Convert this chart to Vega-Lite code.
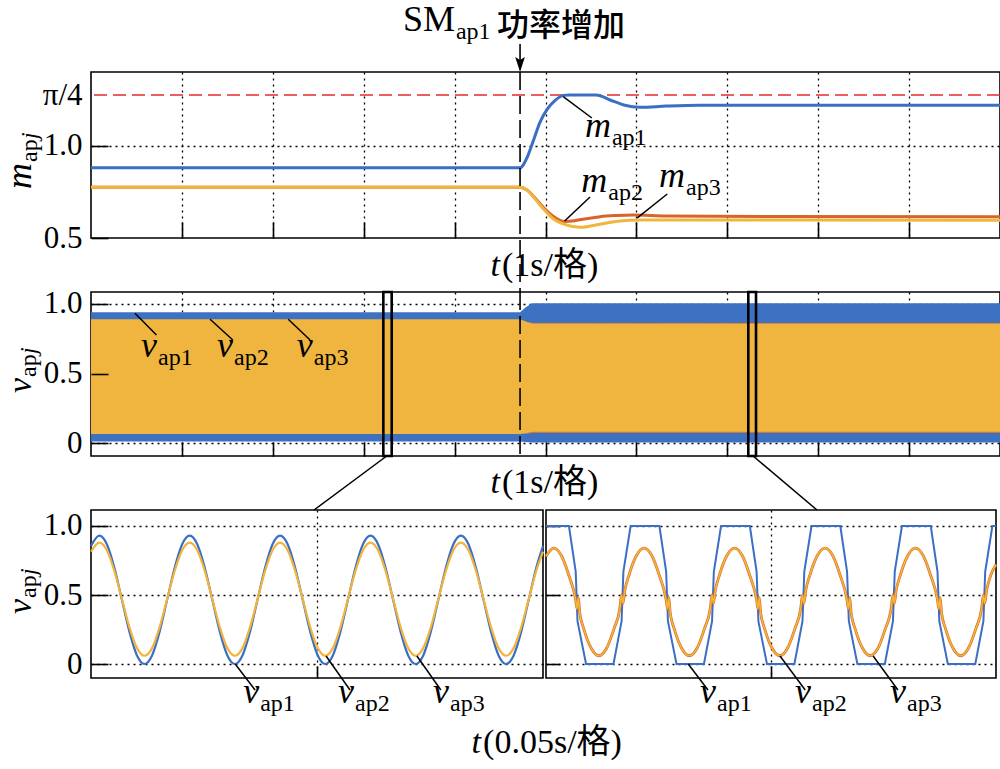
{
  "$schema": "https://vega.github.io/schema/vega-lite/v6.json",
  "autosize": {"type": "none"},
  "padding": {"left": 91, "top": 72, "right": 909, "bottom": 697},
  "background": "white",
  "bounds": "flush",
  "spacing": 54,
  "datasets": {
    "m": [
      {"s": "m_ap1", "t": 0, "v": 0.882}, {"s": "m_ap1", "t": 4.72, "v": 0.882}, {"s": "m_ap1", "t": 4.8, "v": 0.94}, {"s": "m_ap1", "t": 4.86, "v": 1.02}, {"s": "m_ap1", "t": 4.94, "v": 1.13}, {"s": "m_ap1", "t": 5.02, "v": 1.2}, {"s": "m_ap1", "t": 5.1, "v": 1.245}, {"s": "m_ap1", "t": 5.2, "v": 1.275}, {"s": "m_ap1", "t": 5.26, "v": 1.277}, {"s": "m_ap1", "t": 5.56, "v": 1.277}, {"s": "m_ap1", "t": 5.71, "v": 1.25}, {"s": "m_ap1", "t": 5.86, "v": 1.223}, {"s": "m_ap1", "t": 6.04, "v": 1.21}, {"s": "m_ap1", "t": 6.33, "v": 1.217}, {"s": "m_ap1", "t": 6.7, "v": 1.222}, {"s": "m_ap1", "t": 8, "v": 1.222}, {"s": "m_ap1", "t": 10, "v": 1.221},
      {"s": "m_ap2", "t": 0, "v": 0.776}, {"s": "m_ap2", "t": 4.72, "v": 0.776}, {"s": "m_ap2", "t": 4.8, "v": 0.76}, {"s": "m_ap2", "t": 4.88, "v": 0.72}, {"s": "m_ap2", "t": 4.97, "v": 0.67}, {"s": "m_ap2", "t": 5.08, "v": 0.62}, {"s": "m_ap2", "t": 5.21, "v": 0.59}, {"s": "m_ap2", "t": 5.32, "v": 0.594}, {"s": "m_ap2", "t": 5.41, "v": 0.602}, {"s": "m_ap2", "t": 5.6, "v": 0.616}, {"s": "m_ap2", "t": 5.78, "v": 0.622}, {"s": "m_ap2", "t": 5.96, "v": 0.625}, {"s": "m_ap2", "t": 6.33, "v": 0.62}, {"s": "m_ap2", "t": 7.5, "v": 0.617}, {"s": "m_ap2", "t": 10, "v": 0.616},
      {"s": "m_ap3", "t": 0, "v": 0.776}, {"s": "m_ap3", "t": 4.72, "v": 0.776}, {"s": "m_ap3", "t": 4.8, "v": 0.758}, {"s": "m_ap3", "t": 4.88, "v": 0.716}, {"s": "m_ap3", "t": 4.97, "v": 0.662}, {"s": "m_ap3", "t": 5.08, "v": 0.606}, {"s": "m_ap3", "t": 5.21, "v": 0.574}, {"s": "m_ap3", "t": 5.38, "v": 0.558}, {"s": "m_ap3", "t": 5.6, "v": 0.575}, {"s": "m_ap3", "t": 5.82, "v": 0.592}, {"s": "m_ap3", "t": 6.04, "v": 0.598}, {"s": "m_ap3", "t": 7, "v": 0.598}, {"s": "m_ap3", "t": 10, "v": 0.597}
    ],
    "mid": [
      {"s": "blue", "t": 0, "lo": 0.012, "hi": 0.94}, {"s": "blue", "t": 4.72, "lo": 0.012, "hi": 0.94}, {"s": "blue", "t": 4.78, "lo": 0.01, "hi": 0.975}, {"s": "blue", "t": 4.85, "lo": 0.006, "hi": 1.005}, {"s": "blue", "t": 10, "lo": 0.006, "hi": 1.005},
      {"s": "yellow", "t": 0, "lo": 0.067, "hi": 0.89}, {"s": "yellow", "t": 4.72, "lo": 0.067, "hi": 0.89}, {"s": "yellow", "t": 4.8, "lo": 0.072, "hi": 0.87}, {"s": "yellow", "t": 4.86, "lo": 0.078, "hi": 0.862}, {"s": "yellow", "t": 10, "lo": 0.078, "hi": 0.861}
    ],
    "L": [
      {"t": 0, "a": 0.855, "b": 0.814},
      {"t": 1.84, "a": 0.93, "b": 0.88}, {"t": 3.51, "a": 0.868, "b": 0.825}, {"t": 5.17, "a": 0.698, "b": 0.675}, {"t": 6.84, "a": 0.465, "b": 0.47}, {"t": 8.51, "a": 0.233, "b": 0.265}, {"t": 10.17, "a": 0.062, "b": 0.115}, {"t": 11.84, "a": 0, "b": 0.06}, {"t": 13.51, "a": 0.062, "b": 0.115}, {"t": 15.17, "a": 0.233, "b": 0.265}, {"t": 16.84, "a": 0.465, "b": 0.47}, {"t": 18.51, "a": 0.698, "b": 0.675}, {"t": 20.17, "a": 0.868, "b": 0.825},
      {"t": 21.84, "a": 0.93, "b": 0.88}, {"t": 23.51, "a": 0.868, "b": 0.825}, {"t": 25.17, "a": 0.698, "b": 0.675}, {"t": 26.84, "a": 0.465, "b": 0.47}, {"t": 28.51, "a": 0.233, "b": 0.265}, {"t": 30.17, "a": 0.062, "b": 0.115}, {"t": 31.84, "a": 0, "b": 0.06}, {"t": 33.51, "a": 0.062, "b": 0.115}, {"t": 35.17, "a": 0.233, "b": 0.265}, {"t": 36.84, "a": 0.465, "b": 0.47}, {"t": 38.51, "a": 0.698, "b": 0.675}, {"t": 40.17, "a": 0.868, "b": 0.825},
      {"t": 41.84, "a": 0.93, "b": 0.88}, {"t": 43.51, "a": 0.868, "b": 0.825}, {"t": 45.17, "a": 0.698, "b": 0.675}, {"t": 46.84, "a": 0.465, "b": 0.47}, {"t": 48.51, "a": 0.233, "b": 0.265}, {"t": 50.17, "a": 0.062, "b": 0.115}, {"t": 51.84, "a": 0, "b": 0.06}, {"t": 53.51, "a": 0.062, "b": 0.115}, {"t": 55.17, "a": 0.233, "b": 0.265}, {"t": 56.84, "a": 0.465, "b": 0.47}, {"t": 58.51, "a": 0.698, "b": 0.675}, {"t": 60.17, "a": 0.868, "b": 0.825},
      {"t": 61.84, "a": 0.93, "b": 0.88}, {"t": 63.51, "a": 0.868, "b": 0.825}, {"t": 65.17, "a": 0.698, "b": 0.675}, {"t": 66.84, "a": 0.465, "b": 0.47}, {"t": 68.51, "a": 0.233, "b": 0.265}, {"t": 70.17, "a": 0.062, "b": 0.115}, {"t": 71.84, "a": 0, "b": 0.06}, {"t": 73.51, "a": 0.062, "b": 0.115}, {"t": 75.17, "a": 0.233, "b": 0.265}, {"t": 76.84, "a": 0.465, "b": 0.47}, {"t": 78.51, "a": 0.698, "b": 0.675}, {"t": 80.17, "a": 0.868, "b": 0.825},
      {"t": 81.84, "a": 0.93, "b": 0.88}, {"t": 83.51, "a": 0.868, "b": 0.825}, {"t": 85.17, "a": 0.698, "b": 0.675}, {"t": 86.84, "a": 0.465, "b": 0.47}, {"t": 88.51, "a": 0.233, "b": 0.265}, {"t": 90.17, "a": 0.062, "b": 0.115}, {"t": 91.84, "a": 0, "b": 0.06}, {"t": 93.51, "a": 0.062, "b": 0.115}, {"t": 95.17, "a": 0.233, "b": 0.265}, {"t": 96.84, "a": 0.465, "b": 0.47}, {"t": 98.51, "a": 0.698, "b": 0.675},
      {"t": 100, "a": 0.855, "b": 0.814}
    ],
    "Rb": [
      {"t": 0, "v": 1},
      {"t": 5.1, "v": 1}, {"t": 6.6, "v": 0.67}, {"t": 7.0, "v": 0.31}, {"t": 8.9, "v": 0}, {"t": 15.0, "v": 0}, {"t": 16.8, "v": 0.31}, {"t": 17.2, "v": 0.67}, {"t": 18.8, "v": 1},
      {"t": 25.2, "v": 1}, {"t": 26.7, "v": 0.67}, {"t": 27.1, "v": 0.31}, {"t": 29.0, "v": 0}, {"t": 35.1, "v": 0}, {"t": 36.9, "v": 0.31}, {"t": 37.3, "v": 0.67}, {"t": 38.9, "v": 1},
      {"t": 45.3, "v": 1}, {"t": 46.8, "v": 0.67}, {"t": 47.2, "v": 0.31}, {"t": 49.1, "v": 0}, {"t": 55.2, "v": 0}, {"t": 57.0, "v": 0.31}, {"t": 57.4, "v": 0.67}, {"t": 59.0, "v": 1},
      {"t": 65.4, "v": 1}, {"t": 66.9, "v": 0.67}, {"t": 67.3, "v": 0.31}, {"t": 69.2, "v": 0}, {"t": 75.3, "v": 0}, {"t": 77.1, "v": 0.31}, {"t": 77.5, "v": 0.67}, {"t": 79.1, "v": 1},
      {"t": 85.5, "v": 1}, {"t": 87.0, "v": 0.67}, {"t": 87.4, "v": 0.31}, {"t": 89.3, "v": 0}, {"t": 95.4, "v": 0}, {"t": 97.2, "v": 0.31}, {"t": 97.6, "v": 0.67}, {"t": 99.2, "v": 1},
      {"t": 100, "v": 1}
    ],
    "Ry": [
      {"t": 0, "v": 0.78},
      {"t": 1.7, "v": 0.84}, {"t": 3.38, "v": 0.788}, {"t": 5.05, "v": 0.645}, {"t": 6.6, "v": 0.465}, {"t": 6.9, "v": 0.40}, {"t": 7.2, "v": 0.48}, {"t": 7.5, "v": 0.37}, {"t": 8.4, "v": 0.255}, {"t": 10.08, "v": 0.112}, {"t": 11.75, "v": 0.06}, {"t": 13.43, "v": 0.112}, {"t": 15.1, "v": 0.255}, {"t": 16.4, "v": 0.40}, {"t": 16.8, "v": 0.50}, {"t": 17.1, "v": 0.44}, {"t": 17.5, "v": 0.53}, {"t": 18.45, "v": 0.645}, {"t": 20.13, "v": 0.788},
      {"t": 21.8, "v": 0.84}, {"t": 23.48, "v": 0.788}, {"t": 25.15, "v": 0.645}, {"t": 26.7, "v": 0.465}, {"t": 27.0, "v": 0.40}, {"t": 27.3, "v": 0.48}, {"t": 27.6, "v": 0.37}, {"t": 28.5, "v": 0.255}, {"t": 30.18, "v": 0.112}, {"t": 31.85, "v": 0.06}, {"t": 33.53, "v": 0.112}, {"t": 35.2, "v": 0.255}, {"t": 36.5, "v": 0.40}, {"t": 36.9, "v": 0.50}, {"t": 37.2, "v": 0.44}, {"t": 37.6, "v": 0.53}, {"t": 38.55, "v": 0.645}, {"t": 40.23, "v": 0.788},
      {"t": 41.9, "v": 0.84}, {"t": 43.58, "v": 0.788}, {"t": 45.25, "v": 0.645}, {"t": 46.8, "v": 0.465}, {"t": 47.1, "v": 0.40}, {"t": 47.4, "v": 0.48}, {"t": 47.7, "v": 0.37}, {"t": 48.6, "v": 0.255}, {"t": 50.28, "v": 0.112}, {"t": 51.95, "v": 0.06}, {"t": 53.63, "v": 0.112}, {"t": 55.3, "v": 0.255}, {"t": 56.6, "v": 0.40}, {"t": 57.0, "v": 0.50}, {"t": 57.3, "v": 0.44}, {"t": 57.7, "v": 0.53}, {"t": 58.65, "v": 0.645}, {"t": 60.33, "v": 0.788},
      {"t": 62.0, "v": 0.84}, {"t": 63.68, "v": 0.788}, {"t": 65.35, "v": 0.645}, {"t": 66.9, "v": 0.465}, {"t": 67.2, "v": 0.40}, {"t": 67.5, "v": 0.48}, {"t": 67.8, "v": 0.37}, {"t": 68.7, "v": 0.255}, {"t": 70.38, "v": 0.112}, {"t": 72.05, "v": 0.06}, {"t": 73.73, "v": 0.112}, {"t": 75.4, "v": 0.255}, {"t": 76.7, "v": 0.40}, {"t": 77.1, "v": 0.50}, {"t": 77.4, "v": 0.44}, {"t": 77.8, "v": 0.53}, {"t": 78.75, "v": 0.645}, {"t": 80.43, "v": 0.788},
      {"t": 82.1, "v": 0.84}, {"t": 83.78, "v": 0.788}, {"t": 85.45, "v": 0.645}, {"t": 87.0, "v": 0.465}, {"t": 87.3, "v": 0.40}, {"t": 87.6, "v": 0.48}, {"t": 87.9, "v": 0.37}, {"t": 88.8, "v": 0.255}, {"t": 90.48, "v": 0.112}, {"t": 92.15, "v": 0.06}, {"t": 93.83, "v": 0.112}, {"t": 95.5, "v": 0.255}, {"t": 96.8, "v": 0.40}, {"t": 97.2, "v": 0.50}, {"t": 97.5, "v": 0.44}, {"t": 97.9, "v": 0.53}, {"t": 98.85, "v": 0.645},
      {"t": 100, "v": 0.72}
    ]
  },
  "vconcat": [
    {
      "width": 909,
      "height": 166,
      "layer": [
        {
          "data": {"values": [{"v": 1.277}]},
          "mark": {"type": "rule", "color": "#e3282c", "strokeDash": [13, 6], "strokeWidth": 1.6},
          "encoding": {
            "y": {"field": "v", "type": "quantitative", "scale": {"domain": [0.5, 1.402], "nice": false, "zero": false},
              "axis": {"values": [0.5, 1, 1.277], "title": null, "tickSize": -17, "labelPadding": 26,
                "labelExpr": "datum.value > 1.2 ? 'π/4' : format(datum.value, '.1f')",
                "grid": true,
                "gridOpacity": {"condition": {"test": "datum.value > 0.9 && datum.value < 1.1", "value": 1}, "value": 0},
                "tickOpacity": {"condition": {"test": "datum.value > 1.2", "value": 0}, "value": 1}}}
          }
        },
        {
          "data": {"name": "m"},
          "transform": [{"filter": "datum.s == 'm_ap2'"}],
          "mark": {"type": "line", "color": "#d8632b", "strokeWidth": 3, "interpolate": "monotone"},
          "encoding": {
            "x": {"field": "t", "type": "quantitative", "scale": {"domain": [0, 10], "nice": false, "zero": false},
              "axis": {"values": [1, 2, 3, 4, 5, 6, 7, 8, 9], "title": null, "labels": false, "tickSize": -16, "grid": true}},
            "y": {"field": "v", "type": "quantitative"}
          }
        },
        {
          "data": {"name": "m"},
          "transform": [{"filter": "datum.s == 'm_ap3'"}],
          "mark": {"type": "line", "color": "#f0b53d", "strokeWidth": 3, "interpolate": "monotone"},
          "encoding": {"x": {"field": "t", "type": "quantitative"}, "y": {"field": "v", "type": "quantitative"}}
        },
        {
          "data": {"name": "m"},
          "transform": [{"filter": "datum.s == 'm_ap1'"}],
          "mark": {"type": "line", "color": "#3a6fc2", "strokeWidth": 3, "interpolate": "monotone"},
          "encoding": {"x": {"field": "t", "type": "quantitative"}, "y": {"field": "v", "type": "quantitative"}}
        },
        {
          "data": {"values": [{"t": 4.72, "v": 1.402, "v2": 0.2065}]},
          "mark": {"type": "rule", "color": "black", "strokeDash": [18, 6], "strokeWidth": 1.6},
          "encoding": {"x": {"field": "t", "type": "quantitative"}, "y": {"field": "v", "type": "quantitative"}, "y2": {"field": "v2"}}
        },
        {
          "data": {"values": [{"t": 4.72, "v": 1.554, "v2": 1.46}]},
          "mark": {"type": "rule", "color": "black", "strokeWidth": 1.6},
          "encoding": {"x": {"field": "t", "type": "quantitative"}, "y": {"field": "v", "type": "quantitative"}, "y2": {"field": "v2"}}
        },
        {
          "data": {"values": [{"t": 4.72, "v": 1.45}]},
          "mark": {"type": "point", "shape": "M0,1L-0.55,-0.7L0,-0.35L0.55,-0.7Z", "filled": true, "color": "black", "opacity": 1, "size": 310},
          "encoding": {"x": {"field": "t", "type": "quantitative"}, "y": {"field": "v", "type": "quantitative"}}
        },
        {
          "data": {"values": [{"t": 5.195, "v": 1.268, "t2": 5.51, "v2": 1.152}, {"t": 5.21, "v": 0.592, "t2": 5.49, "v2": 0.723}, {"t": 6.01, "v": 0.609, "t2": 6.34, "v2": 0.739}]},
          "mark": {"type": "rule", "style": "ld"},
          "encoding": {"x": {"field": "t", "type": "quantitative"}, "y": {"field": "v", "type": "quantitative"}, "x2": {"field": "t2"}, "y2": {"field": "v2"}}
        },
        {
          "data": {"values": [{"t": 5.72, "v": 1.049, "main": "m", "sub": "ap1"}, {"t": 5.68, "v": 0.75, "main": "m", "sub": "ap2"}, {"t": 6.535, "v": 0.777, "main": "m", "sub": "ap3"}]},
          "layer": [
            {"mark": {"type": "text", "style": "lm"}, "encoding": {"x": {"field": "t", "type": "quantitative"}, "y": {"field": "v", "type": "quantitative"}, "text": {"field": "main"}}},
            {"mark": {"type": "text", "style": "ls"}, "encoding": {"x": {"field": "t", "type": "quantitative"}, "y": {"field": "v", "type": "quantitative"}, "text": {"field": "sub"}}}
          ]
        },
        {
          "data": {"values": [{"t": -0.66, "v": 0.9076, "main": "m", "sub": "ap", "sub2": "j"}]},
          "layer": [
            {"mark": {"type": "text", "style": "rm"}, "encoding": {"x": {"field": "t", "type": "quantitative"}, "y": {"field": "v", "type": "quantitative"}, "text": {"field": "main"}}},
            {"mark": {"type": "text", "style": "rs"}, "encoding": {"x": {"field": "t", "type": "quantitative"}, "y": {"field": "v", "type": "quantitative"}, "text": {"field": "sub"}}},
            {"mark": {"type": "text", "style": "rj"}, "encoding": {"x": {"field": "t", "type": "quantitative"}, "y": {"field": "v", "type": "quantitative"}, "text": {"field": "sub2"}}}
          ]
        },
        {
          "data": {"values": [{"t": 4.5, "v": 0.2935, "a": "t", "b": "(1s/格)"}]},
          "layer": [
            {"mark": {"type": "text", "style": "tt"}, "encoding": {"x": {"field": "t", "type": "quantitative"}, "y": {"field": "v", "type": "quantitative"}, "text": {"field": "a"}}},
            {"mark": {"type": "text", "style": "tr"}, "encoding": {"x": {"field": "t", "type": "quantitative"}, "y": {"field": "v", "type": "quantitative"}, "text": {"field": "b"}}}
          ]
        },
        {
          "data": {"values": [{"t": 4.004, "v": 1.625, "main": "SM", "sub": "ap1"}]},
          "layer": [
            {"mark": {"type": "text", "style": "lm", "fontStyle": "normal"}, "encoding": {"x": {"field": "t", "type": "quantitative"}, "y": {"field": "v", "type": "quantitative"}, "text": {"field": "main"}}},
            {"mark": {"type": "text", "style": "ls"}, "encoding": {"x": {"field": "t", "type": "quantitative"}, "y": {"field": "v", "type": "quantitative"}, "text": {"field": "sub"}}}
          ]
        },
        {
          "data": {"values": [{"t": 4.466, "v": 1.598, "txt": "功率增加"}]},
          "mark": {"type": "text", "font": "Noto Sans CJK SC", "fontSize": 32, "fontWeight": 500, "align": "left", "baseline": "alphabetic", "color": "black"},
          "encoding": {"x": {"field": "t", "type": "quantitative"}, "y": {"field": "v", "type": "quantitative"}, "text": {"field": "txt"}}
        }
      ]
    },
    {
      "width": 909,
      "height": 164,
      "resolve": {"axis": {"x": "independent", "y": "independent"}},
      "layer": [
        {
          "data": {"name": "mid"},
          "transform": [{"filter": "datum.s == 'blue'"}],
          "mark": {"type": "area", "color": "#3d71c1", "opacity": 1},
          "encoding": {
            "x": {"field": "t", "type": "quantitative", "scale": {"domain": [0, 10], "nice": false, "zero": false},
              "axis": {"orient": "bottom", "values": [1, 2, 3, 4, 5, 6, 7, 8, 9], "title": null, "labels": false, "ticks": false, "grid": true}},
            "y": {"field": "hi", "type": "quantitative", "scale": {"domain": [-0.0912, 1.0861], "nice": false, "zero": false},
              "axis": {"orient": "left", "values": [0, 0.5, 1], "title": null, "labels": false, "ticks": false, "grid": true}},
            "y2": {"field": "lo"}
          }
        },
        {
          "data": {"name": "mid"},
          "transform": [{"filter": "datum.s == 'yellow'"}],
          "mark": {"type": "area", "color": "#efb53f", "opacity": 1},
          "encoding": {
            "x": {"field": "t", "type": "quantitative", "axis": null},
            "y": {"field": "hi", "type": "quantitative", "axis": null},
            "y2": {"field": "lo"}
          }
        },
        {
          "data": {"name": "mid"},
          "transform": [{"filter": "datum.s == 'yellow' && datum.t >= 4.8"}],
          "mark": {"type": "line", "color": "#d8702e", "strokeWidth": 1.2, "opacity": 0.8},
          "encoding": {
            "x": {"field": "t", "type": "quantitative", "axis": null},
            "y": {"field": "lo", "type": "quantitative", "axis": null}
          }
        },
        {
          "data": {"name": "mid"},
          "transform": [{"filter": "datum.s == 'yellow' && datum.t >= 4.8"}],
          "mark": {"type": "line", "color": "#d8702e", "strokeWidth": 1, "opacity": 0.6},
          "encoding": {
            "x": {"field": "t", "type": "quantitative", "axis": null},
            "y": {"field": "hi", "type": "quantitative", "axis": null}
          }
        },
        {
          "data": {"values": [{"t": 3.216, "t2": 3.308, "v": -0.0912, "v2": 1.0861}, {"t": 7.231, "t2": 7.316, "v": -0.0912, "v2": 1.0861}]},
          "mark": {"type": "rect", "fill": null, "fillOpacity": 0, "stroke": "black", "strokeWidth": 2.6},
          "encoding": {
            "x": {"field": "t", "type": "quantitative",
              "axis": {"orient": "bottom", "zindex": 1, "values": [1, 2, 3, 4, 5, 6, 7, 8, 9], "title": null, "labels": false, "tickSize": -14, "grid": false}},
            "x2": {"field": "t2"},
            "y": {"field": "v", "type": "quantitative",
              "axis": {"orient": "left", "zindex": 1, "values": [0, 0.5, 1], "title": null, "tickSize": -17, "labelPadding": 26, "grid": false,
                "labelExpr": "datum.value == 0 ? '0' : format(datum.value, '.1f')"}},
            "y2": {"field": "v2"}
          }
        },
        {
          "data": {"values": [{"t": 3.253, "v": -0.0912, "t2": 2.453, "v2": -0.479}, {"t": 7.283, "v": -0.0912, "t2": 7.987, "v2": -0.479}]},
          "mark": {"type": "rule", "style": "ld"},
          "encoding": {"x": {"field": "t", "type": "quantitative", "axis": null}, "y": {"field": "v", "type": "quantitative", "axis": null}, "x2": {"field": "t2"}, "y2": {"field": "v2"}}
        },
        {
          "data": {"values": [{"t": 4.72, "v": 1.0861, "v2": -0.0912}]},
          "mark": {"type": "rule", "color": "black", "strokeDash": [18, 6], "strokeWidth": 1.6},
          "encoding": {"x": {"field": "t", "type": "quantitative", "axis": null}, "y": {"field": "v", "type": "quantitative", "axis": null}, "y2": {"field": "v2"}}
        },
        {
          "data": {"values": [{"t": 0.484, "v": 0.933, "t2": 0.72, "v2": 0.777}, {"t": 1.31, "v": 0.89, "t2": 1.56, "v2": 0.742}, {"t": 2.17, "v": 0.89, "t2": 2.41, "v2": 0.742}]},
          "mark": {"type": "rule", "style": "ld"},
          "encoding": {"x": {"field": "t", "type": "quantitative", "axis": null}, "y": {"field": "v", "type": "quantitative", "axis": null}, "x2": {"field": "t2"}, "y2": {"field": "v2"}}
        },
        {
          "data": {"values": [{"t": 0.726, "v": 0.622, "main": "v", "sub": "ap1"}, {"t": 1.562, "v": 0.622, "main": "v", "sub": "ap2"}, {"t": 2.44, "v": 0.622, "main": "v", "sub": "ap3"}]},
          "layer": [
            {"mark": {"type": "text", "style": "lm"}, "encoding": {"x": {"field": "t", "type": "quantitative", "axis": null}, "y": {"field": "v", "type": "quantitative", "axis": null}, "text": {"field": "main"}}},
            {"mark": {"type": "text", "style": "ls"}, "encoding": {"x": {"field": "t", "type": "quantitative", "axis": null}, "y": {"field": "v", "type": "quantitative", "axis": null}, "text": {"field": "sub"}}}
          ]
        },
        {
          "data": {"values": [{"t": -0.66, "v": 0.469, "main": "v", "sub": "ap", "sub2": "j"}]},
          "layer": [
            {"mark": {"type": "text", "style": "rm", "fontSize": 34}, "encoding": {"x": {"field": "t", "type": "quantitative", "axis": null}, "y": {"field": "v", "type": "quantitative", "axis": null}, "text": {"field": "main"}}},
            {"mark": {"type": "text", "style": "rs", "dy": 5}, "encoding": {"x": {"field": "t", "type": "quantitative", "axis": null}, "y": {"field": "v", "type": "quantitative", "axis": null}, "text": {"field": "sub"}}},
            {"mark": {"type": "text", "style": "rj", "dy": 5}, "encoding": {"x": {"field": "t", "type": "quantitative", "axis": null}, "y": {"field": "v", "type": "quantitative", "axis": null}, "text": {"field": "sub2"}}}
          ]
        },
        {
          "data": {"values": [{"t": 4.5, "v": -0.357, "a": "t", "b": "(1s/格)"}]},
          "layer": [
            {"mark": {"type": "text", "style": "tt"}, "encoding": {"x": {"field": "t", "type": "quantitative", "axis": null}, "y": {"field": "v", "type": "quantitative", "axis": null}, "text": {"field": "a"}}},
            {"mark": {"type": "text", "style": "tr"}, "encoding": {"x": {"field": "t", "type": "quantitative", "axis": null}, "y": {"field": "v", "type": "quantitative", "axis": null}, "text": {"field": "b"}}}
          ]
        }
      ]
    },
    {
      "hconcat": [
        {
          "width": 452,
          "height": 168,
          "data": {"name": "L"},
          "layer": [
            {
              "mark": {"type": "line", "color": "#3b6fc4", "strokeWidth": 2.2, "interpolate": "monotone"},
              "encoding": {
                "x": {"field": "t", "type": "quantitative", "scale": {"domain": [0, 100], "nice": false, "zero": false},
                  "axis": {"values": [50], "title": null, "labels": false, "tickSize": -12, "grid": true}},
                "y": {"field": "a", "type": "quantitative", "scale": {"domain": [-0.1014, 1.1159], "nice": false, "zero": false},
                  "axis": {"values": [0, 0.5, 1], "title": null, "tickSize": -17, "labelPadding": 26, "grid": true,
                    "labelExpr": "datum.value == 0 ? '0' : format(datum.value, '.1f')"}}
              }
            },
            {
              "mark": {"type": "line", "color": "#f1b43c", "strokeWidth": 2.2, "interpolate": "monotone"},
              "encoding": {"x": {"field": "t", "type": "quantitative"}, "y": {"field": "b", "type": "quantitative"}}
            },
            {
              "data": {"values": [{"t": 31.9, "v": 0, "t2": 36.3, "v2": -0.188}, {"t": 52.0, "v": 0.058, "t2": 57.3, "v2": -0.188}, {"t": 72.1, "v": 0.058, "t2": 77.4, "v2": -0.188}]},
              "mark": {"type": "rule", "style": "ld"},
              "encoding": {"x": {"field": "t", "type": "quantitative"}, "y": {"field": "v", "type": "quantitative"}, "x2": {"field": "t2"}, "y2": {"field": "v2"}}
            },
            {
              "data": {"values": [{"t": 37.2, "v": -0.283, "main": "v", "sub": "ap1"}, {"t": 58.2, "v": -0.283, "main": "v", "sub": "ap2"}, {"t": 79.2, "v": -0.283, "main": "v", "sub": "ap3"}]},
              "layer": [
                {"mark": {"type": "text", "style": "lm"}, "encoding": {"x": {"field": "t", "type": "quantitative"}, "y": {"field": "v", "type": "quantitative"}, "text": {"field": "main"}}},
                {"mark": {"type": "text", "style": "ls"}, "encoding": {"x": {"field": "t", "type": "quantitative"}, "y": {"field": "v", "type": "quantitative"}, "text": {"field": "sub"}}}
              ]
            },
            {
              "data": {"values": [{"t": -13.27, "v": 0.471, "main": "v", "sub": "ap", "sub2": "j"}]},
              "layer": [
                {"mark": {"type": "text", "style": "rm", "fontSize": 34}, "encoding": {"x": {"field": "t", "type": "quantitative"}, "y": {"field": "v", "type": "quantitative"}, "text": {"field": "main"}}},
                {"mark": {"type": "text", "style": "rs", "dy": 5}, "encoding": {"x": {"field": "t", "type": "quantitative"}, "y": {"field": "v", "type": "quantitative"}, "text": {"field": "sub"}}},
                {"mark": {"type": "text", "style": "rj", "dy": 5}, "encoding": {"x": {"field": "t", "type": "quantitative"}, "y": {"field": "v", "type": "quantitative"}, "text": {"field": "sub2"}}}
              ]
            },
            {
              "data": {"values": [{"t": 86.3, "v": -0.645, "a": "t", "b": "(0.05s/格)"}]},
              "layer": [
                {"mark": {"type": "text", "style": "tt"}, "encoding": {"x": {"field": "t", "type": "quantitative"}, "y": {"field": "v", "type": "quantitative"}, "text": {"field": "a"}}},
                {"mark": {"type": "text", "style": "tr"}, "encoding": {"x": {"field": "t", "type": "quantitative"}, "y": {"field": "v", "type": "quantitative"}, "text": {"field": "b"}}}
              ]
            }
          ]
        },
        {
          "width": 450,
          "height": 168,
          "layer": [
            {
              "data": {"name": "Rb"},
              "mark": {"type": "line", "color": "#3b6fc4", "strokeWidth": 2, "interpolate": "linear"},
              "encoding": {
                "x": {"field": "t", "type": "quantitative", "scale": {"domain": [0, 100], "nice": false, "zero": false},
                  "axis": {"values": [50], "title": null, "labels": false, "tickSize": -12, "grid": true}},
                "y": {"field": "v", "type": "quantitative", "scale": {"domain": [-0.1014, 1.1159], "nice": false, "zero": false},
                  "axis": {"values": [0, 0.5, 1], "title": null, "labels": false, "tickSize": -14, "grid": true}}
              }
            },
            {
              "data": {"name": "Ry"},
              "mark": {"type": "line", "color": "#d86b2a", "strokeWidth": 2.8, "interpolate": "monotone"},
              "encoding": {"x": {"field": "t", "type": "quantitative"}, "y": {"field": "v", "type": "quantitative"}}
            },
            {
              "data": {"name": "Ry"},
              "mark": {"type": "line", "color": "#f1b43c", "strokeWidth": 1.6, "interpolate": "monotone"},
              "encoding": {"x": {"field": "t", "type": "quantitative"}, "y": {"field": "v", "type": "quantitative"}}
            },
            {
              "data": {"values": [{"t": 31.6, "v": 0, "t2": 36.0, "v2": -0.188}, {"t": 52.0, "v": 0.058, "t2": 57.6, "v2": -0.188}, {"t": 72.7, "v": 0.058, "t2": 78.2, "v2": -0.188}]},
              "mark": {"type": "rule", "style": "ld"},
              "encoding": {"x": {"field": "t", "type": "quantitative"}, "y": {"field": "v", "type": "quantitative"}, "x2": {"field": "t2"}, "y2": {"field": "v2"}}
            },
            {
              "data": {"values": [{"t": 37.8, "v": -0.283, "main": "v", "sub": "ap1"}, {"t": 58.9, "v": -0.283, "main": "v", "sub": "ap2"}, {"t": 80.0, "v": -0.283, "main": "v", "sub": "ap3"}]},
              "layer": [
                {"mark": {"type": "text", "style": "lm"}, "encoding": {"x": {"field": "t", "type": "quantitative"}, "y": {"field": "v", "type": "quantitative"}, "text": {"field": "main"}}},
                {"mark": {"type": "text", "style": "ls"}, "encoding": {"x": {"field": "t", "type": "quantitative"}, "y": {"field": "v", "type": "quantitative"}, "text": {"field": "sub"}}}
              ]
            }
          ]
        }
      ],
      "spacing": 3,
      "bounds": "flush"
    }
  ],
  "config": {
    "view": {"stroke": "black", "strokeWidth": 1.6},
    "axis": {
      "domain": false,
      "labelFont": "Liberation Serif",
      "labelFontSize": 31,
      "labelColor": "black",
      "tickColor": "black",
      "tickWidth": 1.6,
      "gridColor": "black",
      "gridDash": [2, 4],
      "gridWidth": 1.3,
      "gridOpacity": 1
    },
    "style": {
      "ld": {"color": "black", "strokeWidth": 1.5},
      "lm": {"font": "Liberation Serif", "fontStyle": "italic", "fontSize": 36, "align": "right", "baseline": "alphabetic", "color": "black"},
      "ls": {"font": "Liberation Serif", "fontSize": 24, "align": "left", "baseline": "alphabetic", "dy": 8, "dx": 1, "color": "black"},
      "rm": {"font": "Liberation Serif", "fontStyle": "italic", "fontSize": 36, "angle": 270, "align": "right", "baseline": "alphabetic", "color": "black"},
      "rs": {"font": "Liberation Serif", "fontSize": 24, "angle": 270, "align": "left", "baseline": "alphabetic", "dy": 6, "dx": 1, "color": "black"},
      "rj": {"font": "Liberation Serif", "fontStyle": "italic", "fontSize": 24, "angle": 270, "align": "left", "baseline": "alphabetic", "dy": 6, "dx": 24, "color": "black"},
      "tt": {"font": "Liberation Serif", "fontStyle": "italic", "fontSize": 34, "align": "right", "baseline": "alphabetic", "color": "black"},
      "tr": {"font": "Liberation Serif, Noto Sans CJK SC", "fontSize": 34, "align": "left", "baseline": "alphabetic", "dx": 2, "color": "black"}
    }
  }
}
